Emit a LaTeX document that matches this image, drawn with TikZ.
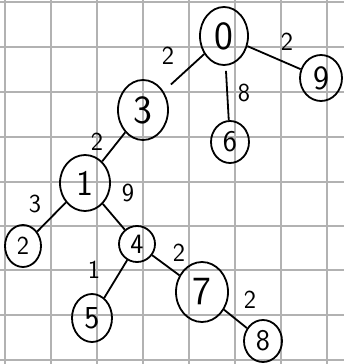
\documentclass[tikz,border=0pt]{standalone}
\usetikzlibrary{shapes.geometric}
\begin{document}
\begin{tikzpicture}[x=1pt,y=-1pt,
  vtx/.style={ellipse,draw=black,line width=1.8pt,inner sep=0pt,font=\sffamily},
  edg/.style={line width=1.8pt,draw=black},
  wlab/.style={font=\sffamily\fontsize{26}{26}\selectfont,inner sep=0pt}]
\fill[white] (0,0) rectangle (344,364);
\useasboundingbox (0,0) rectangle (344,364);
% grid
\foreach \gx in {5,51,97,143,189,235,281,327} \draw[gray!60,line width=1.1pt] (\gx,0) -- (\gx,364);
\foreach \gy in {2,47,92,137,182,226,270,315,360} \draw[gray!60,line width=1.1pt] (0,\gy) -- (344,\gy);
% nodes
\node[vtx,minimum width=48pt,minimum height=58pt,font=\sffamily\fontsize{40}{40}\selectfont] (n0) at (224,36) {0};
\node[vtx,minimum width=42pt,minimum height=46pt,font=\sffamily\fontsize{34}{34}\selectfont] (n9) at (321,78) {9};
\node[vtx,minimum width=50pt,minimum height=60pt,font=\sffamily\fontsize{40}{40}\selectfont] (n3) at (143,110) {3};
\node[vtx,minimum width=38pt,minimum height=42pt,font=\sffamily\fontsize{30}{30}\selectfont] (n6) at (230,142) {6};
\node[vtx,minimum width=50pt,minimum height=56pt,font=\sffamily\fontsize{36}{36}\selectfont] (n1) at (85,183) {1};
\node[vtx,minimum width=36pt,minimum height=42pt,font=\sffamily\fontsize{26}{26}\selectfont] (n2) at (23,246) {2};
\node[vtx,minimum width=36pt,minimum height=36pt,font=\sffamily\fontsize{28}{28}\selectfont] (n4) at (137,244) {4};
\node[vtx,minimum width=40pt,minimum height=48pt,font=\sffamily\fontsize{32}{32}\selectfont] (n5) at (92,318) {5};
\node[vtx,minimum width=52pt,minimum height=60pt,font=\sffamily\fontsize{40}{40}\selectfont] (n7) at (202,292) {7};
\node[vtx,minimum width=38pt,minimum height=42pt,font=\sffamily\fontsize{30}{30}\selectfont] (n8) at (263,341) {8};
% edges
\draw[edg,shorten >=10pt] (n0) -- (n3);
\draw[edg] (n0) -- (n9);
\draw[edg,shorten <=5pt] (n0) -- (n6);
\draw[edg] (n3) -- (n1);
\draw[edg] (n1) -- (n2);
\draw[edg] (n1) -- (n4);
\draw[edg] (n4) -- (n5);
\draw[edg] (n4) -- (n7);
\draw[edg] (n7) -- (n8);
% weights
\node[wlab] (w03) at (168,56) {2};
\node[wlab] (w09) at (287,42) {2};
\node[wlab] (w06) at (244,93) {8};
\node[wlab] (w31) at (97,142) {2};
\node[wlab] (w12) at (35,204) {3};
\node[wlab] (w14) at (128,193) {9};
\node[wlab] (w45) at (94,270) {1};
\node[wlab] (w47) at (179,253) {2};
\node[wlab] (w78) at (250,300) {2};
\end{tikzpicture}
\end{document}
